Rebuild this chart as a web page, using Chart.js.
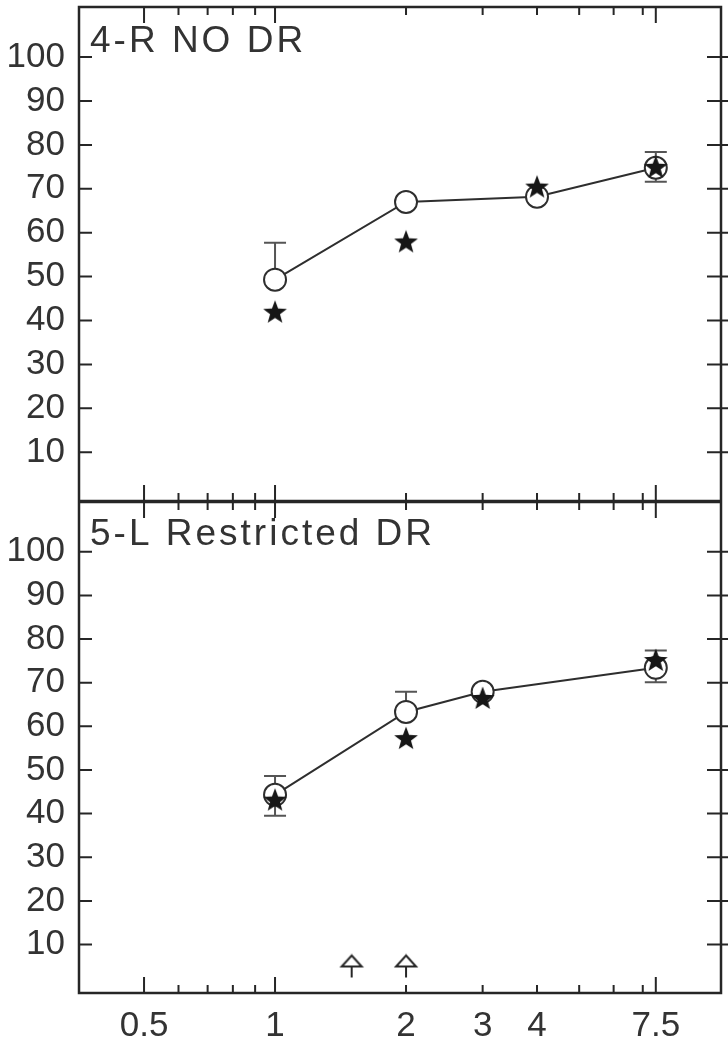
<!DOCTYPE html>
<html>
<head>
<meta charset="utf-8">
<script src="https://cdn.jsdelivr.net/npm/chart.js@4.4.1/dist/chart.umd.min.js"></script>
<style>
  body { margin: 0; background: #fff; }
  canvas { display: block; }
</style>
</head>
<body>
<canvas id="panelTop" width="728" height="502"></canvas>
<canvas id="panelBottom" width="728" height="541"></canvas>
<script>
// upper panel: 4-R NO DR
const topDoses = [1, 2, 4, 7.5];
const topCircle = [49.3, 67.0, 68.2, 74.8];
const topCirclePlus = [8.4, 0, 0, 3.6];
const topCircleMinus = [0, 0, 0, 3.2];
const topStar = [42.0, 58.0, 70.5, 75.0];

// lower panel: 5-L Restricted DR
const botDoses = [1, 2, 3, 7.5];
const botCircle = [44.3, 63.3, 67.9, 73.4];
const botCirclePlus = [4.3, 4.6, 0, 4.0];
const botCircleMinus = [4.8, 0, 0, 3.3];
const botStar = [43.2, 57.3, 66.5, 75.2];
const arrowDoses = [1.5, 2];
const arrowLevel = [5.1, 5.1];

const xTickVals = [0.5, 1, 2, 3, 4, 7.5];
const yTickVals = [10, 20, 30, 40, 50, 60, 70, 80, 90, 100];
const xMajorMarks = [0.5, 1, 7.5];
const xMinorMarks = [0.6, 0.7, 0.8, 0.9, 2, 3, 4, 5, 6, 7];

const INK = '#262626';

// filled five-point star used as point style
function starImage() {
  const c = document.createElement('canvas');
  c.width = 26; c.height = 26;
  const g = c.getContext('2d');
  g.fillStyle = '#161616';
  g.beginPath();
  for (let i = 0; i < 10; i++) {
    const r = i % 2 ? 5.2 : 12.5;
    const a = -Math.PI / 2 + i * Math.PI / 5;
    g.lineTo(13 + r * Math.cos(a), 14 + r * Math.sin(a));
  }
  g.closePath();
  g.fill();
  return c;
}

// open arrow head on a short stem
function arrowImage() {
  const c = document.createElement('canvas');
  c.width = 26; c.height = 25;
  const g = c.getContext('2d');
  g.strokeStyle = INK;
  g.lineWidth = 2;
  g.beginPath();
  g.moveTo(13, 2); g.lineTo(23, 13); g.lineTo(3, 13); g.closePath();
  g.moveTo(13, 13); g.lineTo(13, 24);
  g.stroke();
  return c;
}

const starPt = starImage();
const arrowPt = arrowImage();

const errorBars = {
  id: 'errorBars',
  beforeDatasetsDraw(chart) {
    const ctx = chart.ctx;
    const ys = chart.scales.y;
    chart.data.datasets.forEach((ds, i) => {
      if (!ds.errPlus) return;
      const meta = chart.getDatasetMeta(i);
      ctx.save();
      ctx.strokeStyle = '#555';
      ctx.lineWidth = 2;
      meta.data.forEach((pt, j) => {
        const v = ds.data[j].y;
        [[ds.errPlus[j], 1], [ds.errMinus[j], -1]].forEach(([e, s]) => {
          if (!e) return;
          const yEnd = ys.getPixelForValue(v + s * e);
          ctx.beginPath();
          ctx.moveTo(pt.x, pt.y); ctx.lineTo(pt.x, yEnd);
          ctx.moveTo(pt.x - 11, yEnd); ctx.lineTo(pt.x + 11, yEnd);
          ctx.stroke();
        });
      });
      ctx.restore();
    });
  }
};

// box with inward ticks on all four sides, plus the panel caption
const frame = {
  id: 'frame',
  afterDraw(chart, args, opts) {
    const { ctx, chartArea: a } = chart;
    const x = chart.scales.x, y = chart.scales.y;
    ctx.save();
    ctx.strokeStyle = INK;
    ctx.lineWidth = 2.5;
    ctx.strokeRect(a.left, a.top, a.right - a.left, a.bottom - a.top);
    ctx.lineWidth = 2;
    ctx.beginPath();
    yTickVals.forEach(v => {
      const py = y.getPixelForValue(v);
      ctx.moveTo(a.left, py); ctx.lineTo(a.left + 13, py);
      ctx.moveTo(a.right + 7, py); ctx.lineTo(a.right - 14, py);
    });
    const mark = (v, len) => {
      const px = x.getPixelForValue(v);
      ctx.moveTo(px, a.top); ctx.lineTo(px, a.top + len);
      ctx.moveTo(px, a.bottom); ctx.lineTo(px, a.bottom - len);
    };
    xMajorMarks.forEach(v => mark(v, 16));
    xMinorMarks.forEach(v => mark(v, 8));
    ctx.stroke();

    ctx.fillStyle = '#333';
    ctx.font = '37px "Liberation Sans"';
    ctx.letterSpacing = '3px';
    ctx.textBaseline = 'alphabetic';
    ctx.fillText(opts.title, 90, a.top + opts.titleDrop);
    ctx.restore();
  }
};

function panel(id, p) {
  const datasets = [
    {
      data: p.doses.map((d, i) => ({ x: d, y: p.star[i] })),
      pointStyle: starPt,
      showLine: false,
      order: 0
    },
    {
      data: p.doses.map((d, i) => ({ x: d, y: p.circle[i] })),
      errPlus: p.plus,
      errMinus: p.minus,
      showLine: true,
      borderColor: '#2e2e2e',
      borderWidth: 2,
      pointRadius: 11,
      pointBorderWidth: 2,
      pointBorderColor: '#2e2e2e',
      pointBackgroundColor: '#fff',
      order: 1
    }
  ];
  if (p.arrows) {
    datasets.push({
      data: p.arrows.x.map((d, i) => ({ x: d, y: p.arrows.y[i] })),
      pointStyle: arrowPt,
      showLine: false,
      order: 2
    });
  }

  return new Chart(document.getElementById(id), {
    type: 'scatter',
    data: { datasets },
    options: {
      responsive: false,
      animation: false,
      devicePixelRatio: 1,
      layout: { padding: p.padding, autoPadding: false },
      plugins: {
        legend: { display: false },
        tooltip: { enabled: false },
        frame: { title: p.title, titleDrop: p.titleDrop }
      },
      scales: {
        x: {
          type: 'logarithmic',
          min: 0.3544,
          max: 10.59,
          display: p.showX,
          grid: { display: false, drawTicks: false, tickLength: 0 },
          border: { display: false },
          afterBuildTicks: s => { s.ticks = xTickVals.map(v => ({ value: v })); },
          afterFit: s => { s.height = p.showX ? 50 : 0; s.paddingLeft = 0; s.paddingRight = 0; },
          ticks: {
            autoSkip: false,
            maxRotation: 0,
            padding: 12,
            color: '#333',
            font: { family: 'Liberation Sans', size: 35 },
            callback: v => String(v)
          }
        },
        y: {
          min: -1.1,
          max: 111.4,
          grid: { display: false, drawTicks: false, tickLength: 0 },
          border: { display: false },
          afterBuildTicks: s => { s.ticks = yTickVals.map(v => ({ value: v })); },
          afterFit: s => { s.width = 79; s.paddingTop = 0; s.paddingBottom = 0; },
          ticks: {
            padding: 14,
            color: '#333',
            font: { family: 'Liberation Sans', size: 35 }
          }
        }
      }
    },
    plugins: [errorBars, frame]
  });
}

panel('panelTop', {
  doses: topDoses, circle: topCircle, plus: topCirclePlus, minus: topCircleMinus, star: topStar,
  title: '4-R NO DR', titleDrop: 45, showX: false,
  padding: { top: 7, bottom: 1, left: 0, right: 7 }
});

panel('panelBottom', {
  doses: botDoses, circle: botCircle, plus: botCirclePlus, minus: botCircleMinus, star: botStar,
  arrows: { x: arrowDoses, y: arrowLevel },
  title: '5-L Restricted DR', titleDrop: 43, showX: true,
  padding: { top: 0, bottom: 0, left: 0, right: 7 }
});
</script>
</body>
</html>
